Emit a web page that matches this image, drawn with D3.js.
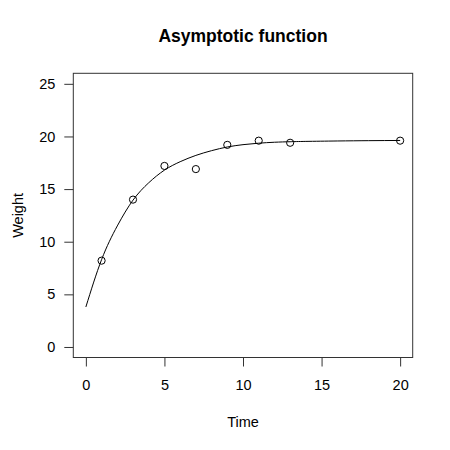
<!DOCTYPE html>
<html><head><meta charset="utf-8">
<script src="https://cdn.jsdelivr.net/npm/d3@7"></script>
<style>body{margin:0;background:#fff}svg{display:block}text{font-family:"Liberation Sans",Arial,sans-serif;fill:#000}</style>
</head><body>
<script>
const obsTime = [1, 3, 5, 7, 9, 11, 13, 20];
const obsWeight = [8.2, 14.0, 17.2, 16.9, 19.2, 19.6, 19.4, 19.6];
const curveTime = [0, 1, 2, 3, 4, 5, 6, 7, 8, 9, 10, 11, 12, 13, 14, 16, 18, 20];
const curveWeight = [3.8, 8.3, 11.5, 13.95, 15.6, 16.8, 17.6, 18.2, 18.65, 19.0, 19.22, 19.36, 19.45, 19.5, 19.53, 19.57, 19.6, 19.62];
const xTicks = [0, 5, 10, 15, 20];
const yTicks = [0, 5, 10, 15, 20, 25];

const W = 450, H = 450;
const box = {l: 73.3, r: 412.7, t: 73.3, b: 357.5};
const svg = d3.select("body").append("svg").attr("width", W).attr("height", H);

const x = d3.scaleLinear().domain([-0.8, 20.8]).range([box.l, box.r]);
const y = d3.scaleLinear().domain([-1, 26]).range([box.b, box.t]);

svg.append("rect").attr("x", box.l).attr("y", box.t)
  .attr("width", box.r - box.l).attr("height", box.b - box.t)
  .attr("fill", "none").attr("stroke", "#333").attr("stroke-width", 1);

const xAxis = svg.append("g").attr("transform", `translate(0,${box.b})`)
  .call(d3.axisBottom(x).tickValues(xTicks).tickSize(9).tickPadding(13).tickSizeOuter(0));
xAxis.select(".domain").remove();
xAxis.selectAll("line").attr("stroke", "#333");
xAxis.selectAll("text").attr("font-size", 14.5).attr("font-family", '"Liberation Sans",Arial,sans-serif');

const yAxis = svg.append("g").attr("transform", `translate(${box.l},0)`)
  .call(d3.axisLeft(y).tickValues(yTicks).tickSize(9).tickPadding(9).tickSizeOuter(0));
yAxis.select(".domain").remove();
yAxis.selectAll("line").attr("stroke", "#333");
yAxis.selectAll("text").attr("font-size", 14.5).attr("font-family", '"Liberation Sans",Arial,sans-serif');

const line = d3.line().x(d => x(d[0])).y(d => y(d[1])).curve(d3.curveNatural);
svg.append("path").datum(curveTime.map((t, i) => [t, curveWeight[i]]))
  .attr("d", line).attr("fill", "none").attr("stroke", "#000").attr("stroke-width", 1);

svg.selectAll("circle.pt").data(obsTime.map((t, i) => [t, obsWeight[i]])).enter()
  .append("circle").attr("class", "pt")
  .attr("cx", d => x(d[0])).attr("cy", d => y(d[1])).attr("r", 3.6)
  .attr("fill", "none").attr("stroke", "#000").attr("stroke-width", 1);

svg.append("text").attr("x", (box.l + box.r) / 2).attr("y", 42)
  .attr("text-anchor", "middle").attr("font-size", 17.5).attr("font-weight", "bold")
  .text("Asymptotic function");
svg.append("text").attr("x", (box.l + box.r) / 2).attr("y", 427)
  .attr("text-anchor", "middle").attr("font-size", 14.5).text("Time");
svg.append("text").attr("transform", `translate(23,${(box.t + box.b) / 2}) rotate(-90)`)
  .attr("text-anchor", "middle").attr("font-size", 14.5).text("Weight");
</script>
</body></html>
